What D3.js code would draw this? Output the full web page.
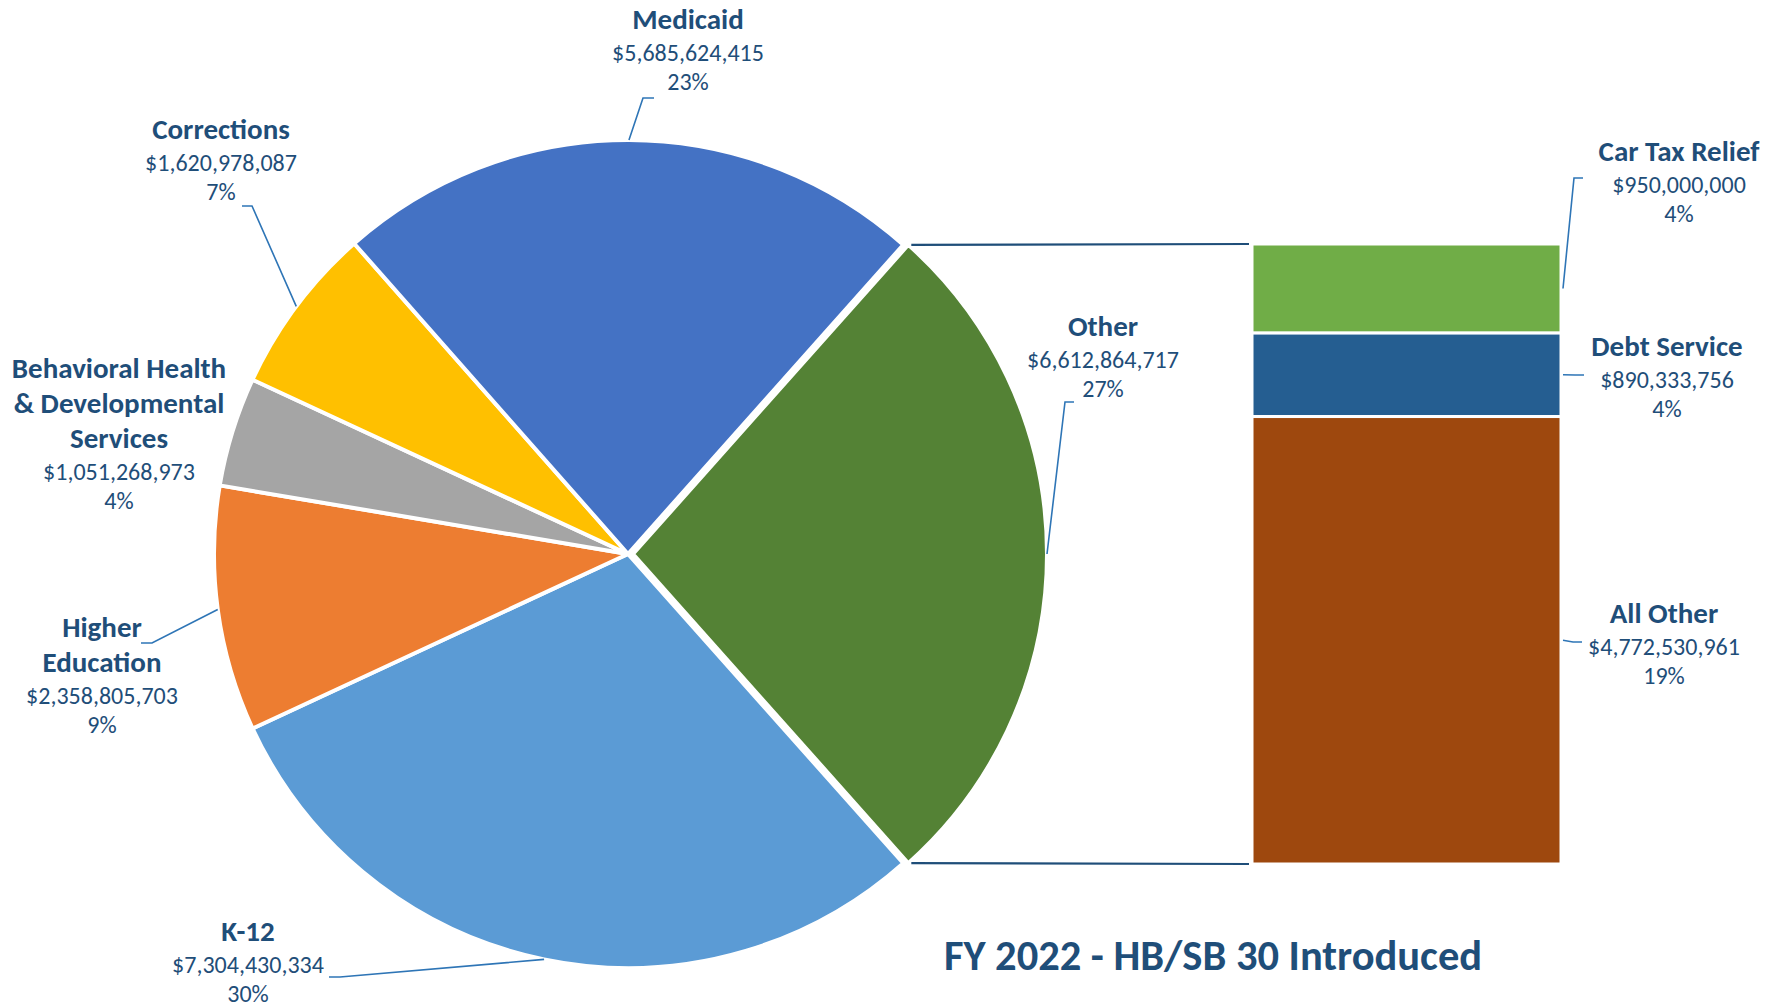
<!DOCTYPE html>
<html>
<head>
<meta charset="utf-8">
<script src="https://cdn.jsdelivr.net/npm/d3@7"></script>
<style>
  body { margin: 0; background: #fff; }
  svg text { font-family: Carlito, Calibri, "Open Sans", sans-serif; fill: #1F4E79; }
</style>
</head>
<body>
<svg width="1781" height="1006"></svg>
<script>
// pie slices, in drawing order (clockwise from the "Other" slice)
const pieNames  = ["Other", "K-12", "Higher Education", "Behavioral Health & Developmental Services", "Corrections", "Medicaid"];
const pieValues = [6612864717, 7304430334, 2358805703, 1051268973, 1620978087, 5685624415];
const piePct    = ["27%", "30%", "9%", "4%", "7%", "23%"];
const pieColors = ["#548235", "#5B9BD5", "#ED7D31", "#A5A5A5", "#FFC000", "#4472C4"];

// breakdown of "Other" shown in the stacked bar (top to bottom)
const barNames  = ["Car Tax Relief", "Debt Service", "All Other"];
const barValues = [950000000, 890333756, 4772530961];
const barPct    = ["4%", "4%", "19%"];
const barColors = ["#70AD47", "#255E91", "#9E480E"];

const title = "FY 2022 - HB/SB 30 Introduced";

// label layout: centre x, first line y, title lines, leader elbow + end
const pieLabels = {
  "Other":            {x: 1103, y: 326, lines: ["Other"], elbow: [1065, 402], end: [1074, 402]},
  "K-12":             {x: 248, y: 931, lines: ["K-12"], elbow: [340, 977], end: [329, 977]},
  "Higher Education": {x: 102, y: 627, lines: ["Higher", "Education"], elbow: [152, 643], end: [141, 643]},
  "Behavioral Health & Developmental Services": {x: 119, y: 368, lines: ["Behavioral Health", "& Developmental", "Services"]},
  "Corrections":      {x: 221, y: 129, lines: ["Corrections"], elbow: [252, 206], end: [242, 206]},
  "Medicaid":         {x: 688, y: 19, lines: ["Medicaid"], elbow: [643, 98], end: [654, 98]}
};
const barLabels = {
  "Car Tax Relief": {x: 1679, y: 151, elbow: [1574, 178], end: [1583, 178]},
  "Debt Service":   {x: 1667, y: 346, elbow: [1575, 375], end: [1584, 375]},
  "All Other":      {x: 1664, y: 613, elbow: [1573, 642], end: [1582, 642]}
};

const svg = d3.select("svg");
const cx = 628, cy = 554, r = 414, explode = 5;
const fmt = d3.format("$,");

const total = d3.sum(pieValues);
const otherAngle = 2 * Math.PI * pieValues[0] / total;
const start = Math.PI / 2 - otherAngle / 2;

const pie = d3.pie().sort(null).value(d => d.value)
  .startAngle(start).endAngle(start + 2 * Math.PI);
const arc = d3.arc().innerRadius(0).outerRadius(r);

const slices = pie(pieNames.map((n, i) => ({name: n, value: pieValues[i], pct: piePct[i], color: pieColors[i]})));

function offset(d) {
  if (d.index !== 0) return [0, 0];
  const m = (d.startAngle + d.endAngle) / 2;
  return [Math.sin(m) * explode, -Math.cos(m) * explode];
}

const pieG = svg.append("g").attr("transform", `translate(${cx},${cy})`);
pieG.selectAll("path").data(slices).enter().append("path")
  .attr("d", arc)
  .attr("transform", d => `translate(${offset(d)})`)
  .attr("fill", d => d.data.color)
  .attr("stroke", "#fff")
  .attr("stroke-width", 4)
  .attr("stroke-linejoin", "round");

// stacked bar for the "Other" breakdown
const barX = 1252, barW = 309, barTop = 244, barBottom = 864;
const otherTotal = d3.sum(barValues);
const y = d3.scaleLinear().domain([0, otherTotal]).range([barTop, barBottom]);
let acc = 0;
const stack = barNames.map((n, i) => {
  const s = {name: n, value: barValues[i], pct: barPct[i], color: barColors[i], y0: acc, y1: acc + barValues[i]};
  acc += barValues[i];
  return s;
});
svg.append("g").selectAll("rect").data(stack).enter().append("rect")
  .attr("x", barX)
  .attr("width", barW)
  .attr("y", d => y(d.y0))
  .attr("height", d => y(d.y1) - y(d.y0))
  .attr("fill", d => d.color)
  .attr("stroke", "#fff")
  .attr("stroke-width", 3);

// connector lines from the exploded slice to the bar
const o = slices[0], off = offset(o);
const corner = a => [cx + off[0] + r * Math.sin(a), cy + off[1] - r * Math.cos(a)];
[[corner(o.startAngle), [barX - 3, y(0)]], [corner(o.endAngle), [barX - 3, y(otherTotal)]]].forEach(p => {
  svg.append("line")
    .attr("x1", p[0][0] + 3).attr("y1", p[0][1])
    .attr("x2", p[1][0]).attr("y2", p[1][1])
    .attr("stroke", "#1F4E79").attr("stroke-width", 2.2);
});

// labels
function label(pos, lines, value, pct) {
  const g = svg.append("g");
  let yy = pos.y;
  lines.forEach((t, i) => {
    if (i > 0) yy += 35;
    g.append("text").attr("x", pos.x).attr("y", yy)
      .attr("text-anchor", "middle").attr("dominant-baseline", "central")
      .attr("font-size", 29).attr("font-weight", "bold").text(t);
  });
  yy += 33;
  g.append("text").attr("x", pos.x).attr("y", yy)
    .attr("text-anchor", "middle").attr("dominant-baseline", "central")
    .attr("font-size", 24).text(fmt(value));
  yy += 29;
  g.append("text").attr("x", pos.x).attr("y", yy)
    .attr("text-anchor", "middle").attr("dominant-baseline", "central")
    .attr("font-size", 24).text(pct);
}

function leader(p0, pos) {
  if (!pos.elbow) return;
  svg.append("polyline")
    .attr("points", [p0, pos.elbow, pos.end].map(p => p.join(",")).join(" "))
    .attr("fill", "none").attr("stroke", "#2E75B6").attr("stroke-width", 1.6);
}

slices.forEach(d => {
  const pos = pieLabels[d.data.name];
  const m = (d.startAngle + d.endAngle) / 2;
  const off = offset(d);
  leader([cx + off[0] + r * Math.sin(m), cy + off[1] - r * Math.cos(m)], pos);
  label(pos, pos.lines, d.data.value, d.data.pct);
});

stack.forEach(d => {
  const pos = barLabels[d.name];
  leader([barX + barW + 2, y((d.y0 + d.y1) / 2)], pos);
  label(pos, [d.name], d.value, d.pct);
});

svg.append("text")
  .attr("x", 1213).attr("y", 955)
  .attr("text-anchor", "middle").attr("dominant-baseline", "central")
  .attr("font-size", 42.5).attr("font-weight", "bold")
  .text(title);
</script>
</body>
</html>
